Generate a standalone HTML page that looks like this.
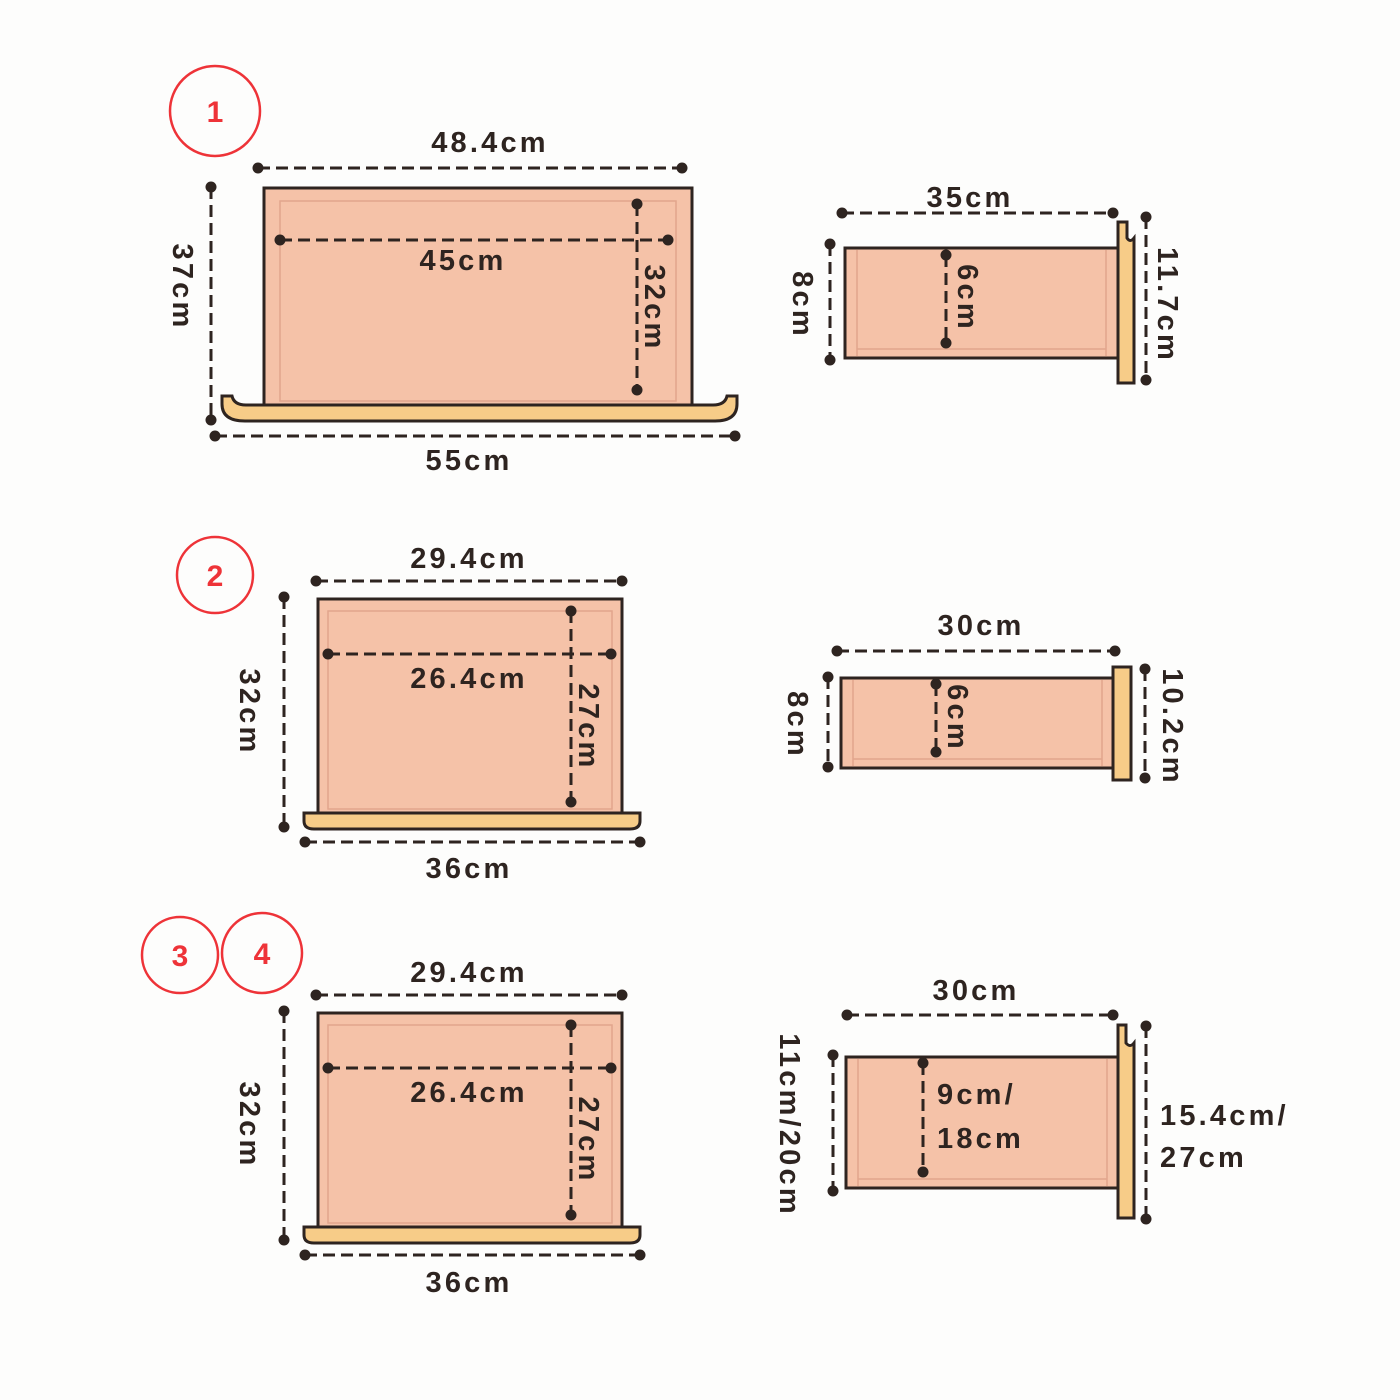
<!DOCTYPE html>
<html><head><meta charset="utf-8"><style>
html,body{margin:0;padding:0;background:#fdfdfc;}
svg{display:block;}
text{font-family:"Liberation Sans","DejaVu Sans",sans-serif;font-weight:bold;font-size:29px;fill:#2e2420;letter-spacing:3.2px;}
.d{stroke:#2e2420;stroke-width:3;stroke-dasharray:12 6;fill:none;}
.b{fill:#f5c2a8;stroke:#2e2420;stroke-width:3;}
.i{fill:none;stroke:#e2a58c;stroke-width:1.5;}
.w{fill:#f7cc88;stroke:#2e2420;stroke-width:3;}
.c{fill:none;stroke:#ee3338;stroke-width:2.5;}
.n{fill:#ee3338;font-size:30px;letter-spacing:0;}
circle.p{fill:#2e2420;}
</style></head><body>
<svg width="1400" height="1400" viewBox="0 0 1400 1400">
<rect x="0" y="0" width="1400" height="1400" fill="#fdfdfc"/>

<circle class="c" cx="215" cy="111" r="45"/><text class="n" x="215" y="122" text-anchor="middle">1</text>
<circle class="c" cx="215" cy="575" r="38"/><text class="n" x="215" y="586" text-anchor="middle">2</text>
<circle class="c" cx="180" cy="955" r="38"/><text class="n" x="180" y="966" text-anchor="middle">3</text>
<circle class="c" cx="262" cy="953" r="40"/><text class="n" x="262" y="964" text-anchor="middle">4</text>

<!-- Drawer 1 front -->
<rect class="b" x="264" y="188" width="428" height="217"/>
<rect class="i" x="280" y="201" width="396" height="200"/>
<path class="w" d="M222,396 L232,396 Q234,405 246,405 L713,405 Q725,405 727,396 L737,396 L737,404 Q737,421 715,421 L245,421 Q222,421 222,404 Z"/>
<line class="d" x1="258" y1="168" x2="682" y2="168"/><circle class="p" cx="258" cy="168" r="5.5"/><circle class="p" cx="682" cy="168" r="5.5"/>
<text x="490" y="152" text-anchor="middle">48.4cm</text>
<line class="d" x1="211" y1="187" x2="211" y2="420"/><circle class="p" cx="211" cy="187" r="5.5"/><circle class="p" cx="211" cy="420" r="5.5"/>
<text transform="translate(173,287) rotate(90)" text-anchor="middle">37cm</text>
<line class="d" x1="215" y1="436" x2="735" y2="436"/><circle class="p" cx="215" cy="436" r="5.5"/><circle class="p" cx="735" cy="436" r="5.5"/>
<text x="469" y="470" text-anchor="middle">55cm</text>
<line class="d" x1="280" y1="240" x2="668" y2="240"/><circle class="p" cx="280" cy="240" r="5.5"/><circle class="p" cx="668" cy="240" r="5.5"/>
<text x="463" y="270" text-anchor="middle">45cm</text>
<line class="d" x1="637" y1="204" x2="637" y2="390"/><circle class="p" cx="637" cy="204" r="5.5"/><circle class="p" cx="637" cy="390" r="5.5"/>
<text transform="translate(645,308) rotate(90)" text-anchor="middle">32cm</text>

<!-- Side 1 -->
<rect class="b" x="845" y="248" width="273" height="110"/>
<path class="i" d="M857,250 L857,356 M857,349 L1106,349 M1106,250 L1106,356"/>
<path class="w" d="M1118,222 L1127,222 L1127,238 Q1130,243 1134,238 L1134,383 L1118,383 Z"/>
<line class="d" x1="842" y1="213" x2="1113" y2="213"/><circle class="p" cx="842" cy="213" r="5.5"/><circle class="p" cx="1113" cy="213" r="5.5"/>
<text x="970" y="207" text-anchor="middle">35cm</text>
<line class="d" x1="830" y1="244" x2="830" y2="360"/><circle class="p" cx="830" cy="244" r="5.5"/><circle class="p" cx="830" cy="360" r="5.5"/>
<text transform="translate(793,305) rotate(90)" text-anchor="middle">8cm</text>
<line class="d" x1="946" y1="255" x2="946" y2="343"/><circle class="p" cx="946" cy="255" r="5.5"/><circle class="p" cx="946" cy="343" r="5.5"/>
<text transform="translate(958,298) rotate(90)" text-anchor="middle">6cm</text>
<line class="d" x1="1146" y1="217" x2="1146" y2="380"/><circle class="p" cx="1146" cy="217" r="5.5"/><circle class="p" cx="1146" cy="380" r="5.5"/>
<text transform="translate(1158,305) rotate(90)" text-anchor="middle">11.7cm</text>

<!-- Drawer 2 front -->
<rect class="b" x="318" y="599" width="304" height="214"/>
<rect class="i" x="328" y="611" width="284" height="198"/>
<path class="w" d="M304,813 L640,813 L640,821 Q640,829 630,829 L314,829 Q304,829 304,821 Z"/>
<line class="d" x1="316" y1="581" x2="622" y2="581"/><circle class="p" cx="316" cy="581" r="5.5"/><circle class="p" cx="622" cy="581" r="5.5"/>
<text x="469" y="568" text-anchor="middle">29.4cm</text>
<line class="d" x1="284" y1="597" x2="284" y2="827"/><circle class="p" cx="284" cy="597" r="5.5"/><circle class="p" cx="284" cy="827" r="5.5"/>
<text transform="translate(240,712) rotate(90)" text-anchor="middle">32cm</text>
<line class="d" x1="305" y1="842" x2="640" y2="842"/><circle class="p" cx="305" cy="842" r="5.5"/><circle class="p" cx="640" cy="842" r="5.5"/>
<text x="469" y="878" text-anchor="middle">36cm</text>
<line class="d" x1="328" y1="654" x2="611" y2="654"/><circle class="p" cx="328" cy="654" r="5.5"/><circle class="p" cx="611" cy="654" r="5.5"/>
<text x="469" y="688" text-anchor="middle">26.4cm</text>
<line class="d" x1="571" y1="611" x2="571" y2="802"/><circle class="p" cx="571" cy="611" r="5.5"/><circle class="p" cx="571" cy="802" r="5.5"/>
<text transform="translate(579,727) rotate(90)" text-anchor="middle">27cm</text>

<!-- Side 2 -->
<rect class="b" x="841" y="678" width="272" height="90"/>
<path class="i" d="M853,680 L853,766 M853,759 L1102,759 M1102,680 L1102,766"/>
<rect class="w" x="1113" y="667" width="18" height="113"/>
<line class="d" x1="837" y1="651" x2="1115" y2="651"/><circle class="p" cx="837" cy="651" r="5.5"/><circle class="p" cx="1115" cy="651" r="5.5"/>
<text x="981" y="635" text-anchor="middle">30cm</text>
<line class="d" x1="828" y1="677" x2="828" y2="767"/><circle class="p" cx="828" cy="677" r="5.5"/><circle class="p" cx="828" cy="767" r="5.5"/>
<text transform="translate(788,725) rotate(90)" text-anchor="middle">8cm</text>
<line class="d" x1="936" y1="684" x2="936" y2="752"/><circle class="p" cx="936" cy="684" r="5.5"/><circle class="p" cx="936" cy="752" r="5.5"/>
<text transform="translate(948,718) rotate(90)" text-anchor="middle">6cm</text>
<line class="d" x1="1145" y1="669" x2="1145" y2="778"/><circle class="p" cx="1145" cy="669" r="5.5"/><circle class="p" cx="1145" cy="778" r="5.5"/>
<text transform="translate(1163,727) rotate(90)" text-anchor="middle">10.2cm</text>

<!-- Drawer 3 front -->
<rect class="b" x="318" y="1013" width="304" height="214"/>
<rect class="i" x="328" y="1025" width="284" height="198"/>
<path class="w" d="M304,1227 L640,1227 L640,1235 Q640,1243 630,1243 L314,1243 Q304,1243 304,1235 Z"/>
<line class="d" x1="316" y1="995" x2="622" y2="995"/><circle class="p" cx="316" cy="995" r="5.5"/><circle class="p" cx="622" cy="995" r="5.5"/>
<text x="469" y="982" text-anchor="middle">29.4cm</text>
<line class="d" x1="284" y1="1011" x2="284" y2="1240"/><circle class="p" cx="284" cy="1011" r="5.5"/><circle class="p" cx="284" cy="1240" r="5.5"/>
<text transform="translate(240,1125) rotate(90)" text-anchor="middle">32cm</text>
<line class="d" x1="305" y1="1255" x2="640" y2="1255"/><circle class="p" cx="305" cy="1255" r="5.5"/><circle class="p" cx="640" cy="1255" r="5.5"/>
<text x="469" y="1292" text-anchor="middle">36cm</text>
<line class="d" x1="328" y1="1068" x2="611" y2="1068"/><circle class="p" cx="328" cy="1068" r="5.5"/><circle class="p" cx="611" cy="1068" r="5.5"/>
<text x="469" y="1102" text-anchor="middle">26.4cm</text>
<line class="d" x1="571" y1="1025" x2="571" y2="1215"/><circle class="p" cx="571" cy="1025" r="5.5"/><circle class="p" cx="571" cy="1215" r="5.5"/>
<text transform="translate(579,1140) rotate(90)" text-anchor="middle">27cm</text>

<!-- Side 3 -->
<rect class="b" x="846" y="1057" width="272" height="131"/>
<path class="i" d="M858,1059 L858,1186 M858,1179 L1107,1179 M1107,1059 L1107,1186"/>
<path class="w" d="M1118,1025 L1126,1025 L1126,1043 Q1130,1048 1134,1043 L1134,1218 L1118,1218 Z"/>
<line class="d" x1="847" y1="1015" x2="1113" y2="1015"/><circle class="p" cx="847" cy="1015" r="5.5"/><circle class="p" cx="1113" cy="1015" r="5.5"/>
<text x="976" y="1000" text-anchor="middle">30cm</text>
<line class="d" x1="833" y1="1055" x2="833" y2="1191"/><circle class="p" cx="833" cy="1055" r="5.5"/><circle class="p" cx="833" cy="1191" r="5.5"/>
<text transform="translate(780,1125) rotate(90)" text-anchor="middle">11cm/20cm</text>
<line class="d" x1="923" y1="1063" x2="923" y2="1172"/><circle class="p" cx="923" cy="1063" r="5.5"/><circle class="p" cx="923" cy="1172" r="5.5"/>
<text x="937" y="1104">9cm/</text>
<text x="937" y="1148">18cm</text>
<line class="d" x1="1146" y1="1026" x2="1146" y2="1219"/><circle class="p" cx="1146" cy="1026" r="5.5"/><circle class="p" cx="1146" cy="1219" r="5.5"/>
<text x="1160" y="1125">15.4cm/</text>
<text x="1160" y="1167">27cm</text>
</svg>
</body></html>
